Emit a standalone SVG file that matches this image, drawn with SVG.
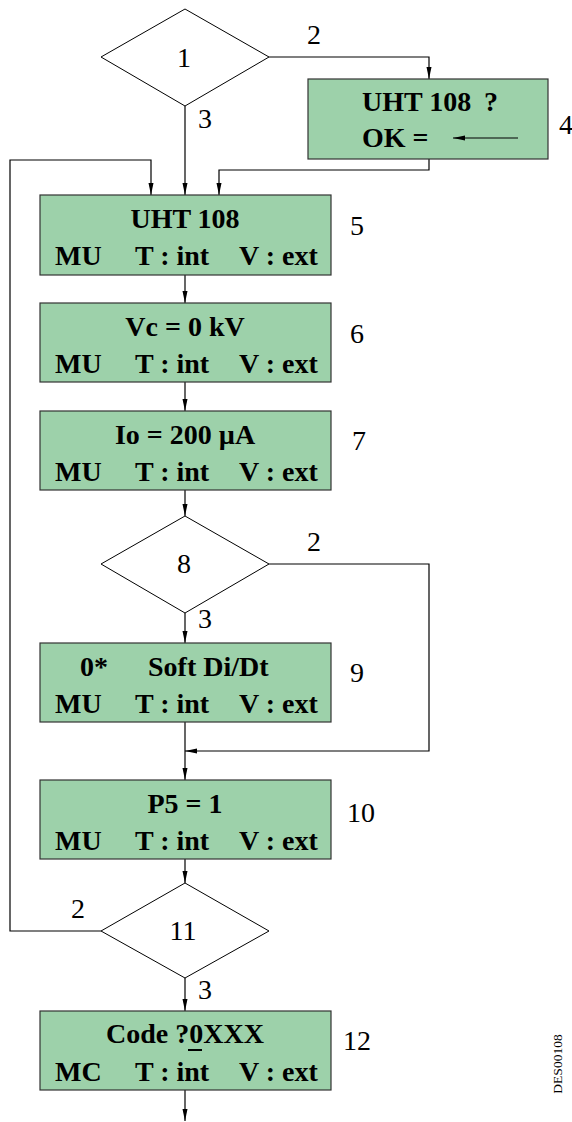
<svg xmlns="http://www.w3.org/2000/svg" width="572" height="1122" viewBox="0 0 572 1122">
<style>
.box{fill:#9dd1aa;stroke:#333;stroke-width:1.2}
.dia{fill:#fff;stroke:#000;stroke-width:1}
.ln{fill:none;stroke:#000;stroke-width:1.2}
.b{font-family:'Liberation Serif',Tinos,'Times New Roman','Nimbus Roman','DejaVu Serif',serif;font-weight:bold;font-size:28px;fill:#000}
.n{font-family:'Liberation Serif',Tinos,'Times New Roman','Nimbus Roman','DejaVu Serif',serif;font-size:28px;fill:#000}
.c{text-anchor:middle}
</style>
<defs>
<marker id="ah" markerUnits="userSpaceOnUse" markerWidth="13" markerHeight="7" refX="12" refY="3.5" orient="auto">
<path d="M0,1 L12,3.5 L0,6 z" fill="#000"/>
</marker>
</defs>
<rect width="572" height="1122" fill="#fff"/>
<g id="connectors">
<path class="ln" d="M269,57 H429 V79" marker-end="url(#ah)"/>
<path class="ln" d="M185,106 V195" marker-end="url(#ah)"/>
<path class="ln" d="M429,159 V170 H219 V195" marker-end="url(#ah)"/>
<path class="ln" d="M101,931 H10 V160 H151 V195" marker-end="url(#ah)"/>
<path class="ln" d="M185,275 V303" marker-end="url(#ah)"/>
<path class="ln" d="M185,382 V411" marker-end="url(#ah)"/>
<path class="ln" d="M185,490 V516" marker-end="url(#ah)"/>
<path class="ln" d="M185,613 V643" marker-end="url(#ah)"/>
<path class="ln" d="M269,564 H429 V751 H185" marker-end="url(#ah)"/>
<path class="ln" d="M185,722 V780" marker-end="url(#ah)"/>
<path class="ln" d="M185,859 V883" marker-end="url(#ah)"/>
<path class="ln" d="M185,978 V1011" marker-end="url(#ah)"/>
<path class="ln" d="M185,1090 V1121" marker-end="url(#ah)"/>
<text class="n c" x="314" y="44">2</text>
<text class="n c" x="205" y="128">3</text>
<text class="n c" x="314" y="551">2</text>
<text class="n c" x="205" y="628">3</text>
<text class="n c" x="78" y="918">2</text>
<text class="n c" x="205" y="999">3</text>
</g>
<g id="n1">
<polygon class="dia" points="185,9 269,57 185,106 101,57"/>
<text class="n c" x="184" y="67">1</text>
</g>
<g id="n4">
<rect class="box" x="308" y="79" width="240" height="80"/>
<text class="b" x="362" y="111">UHT 108</text>
<text class="b" x="484" y="111">?</text>
<text class="b" x="362" y="147">OK =</text>
<path class="ln" d="M518,138 H453" marker-end="url(#ah)"/>
<text class="n c" x="566" y="134">4</text>
</g>
<g id="n5">
<rect class="box" x="40" y="195" width="291" height="80"/>
<text class="b c" x="185" y="228">UHT 108</text>
<text class="b" x="55" y="265">MU</text><text class="b" x="135" y="265">T : int</text><text class="b" x="239" y="265">V : ext</text>
<text class="n c" x="357" y="235">5</text>
</g>
<g id="n6">
<rect class="box" x="40" y="303" width="291" height="79"/>
<text class="b c" x="185" y="336">Vc = 0 kV</text>
<text class="b" x="55" y="373">MU</text><text class="b" x="135" y="373">T : int</text><text class="b" x="239" y="373">V : ext</text>
<text class="n c" x="357" y="343">6</text>
</g>
<g id="n7">
<rect class="box" x="40" y="411" width="291" height="79"/>
<text class="b c" x="185" y="444">Io = 200 µA</text>
<text class="b" x="55" y="481">MU</text><text class="b" x="135" y="481">T : int</text><text class="b" x="239" y="481">V : ext</text>
<text class="n c" x="359" y="450">7</text>
</g>
<g id="n8">
<polygon class="dia" points="185,516 269,564 185,613 101,564"/>
<text class="n c" x="184" y="573">8</text>
</g>
<g id="n9">
<rect class="box" x="40" y="643" width="291" height="79"/>
<text class="b" x="80" y="676">0*</text>
<text class="b" x="148" y="676">Soft Di/Dt</text>
<text class="b" x="55" y="713">MU</text><text class="b" x="135" y="713">T : int</text><text class="b" x="239" y="713">V : ext</text>
<text class="n c" x="357" y="682">9</text>
</g>
<g id="n10">
<rect class="box" x="40" y="780" width="291" height="79"/>
<text class="b c" x="185" y="813">P5 = 1</text>
<text class="b" x="55" y="850">MU</text><text class="b" x="135" y="850">T : int</text><text class="b" x="239" y="850">V : ext</text>
<text class="n c" x="361" y="822">10</text>
</g>
<g id="n11">
<polygon class="dia" points="185,883 269,931 185,978 101,931"/>
<text class="n c" x="183" y="940">11</text>
</g>
<g id="n12">
<rect class="box" x="40" y="1011" width="291" height="79"/>
<text class="b c" x="185" y="1043">Code ?0XXX</text>
<line x1="188" y1="1050" x2="202" y2="1050" stroke="#000" stroke-width="2"/>
<text class="b" x="55" y="1081">MC</text><text class="b" x="135" y="1081">T : int</text><text class="b" x="239" y="1081">V : ext</text>
<text class="n c" x="357" y="1050">12</text>
</g>
<text font-family="'Liberation Serif',Tinos,'Times New Roman','DejaVu Serif',serif" font-size="13.5" text-anchor="middle" transform="translate(562,1064) rotate(-90)">DES00108</text>
</svg>
